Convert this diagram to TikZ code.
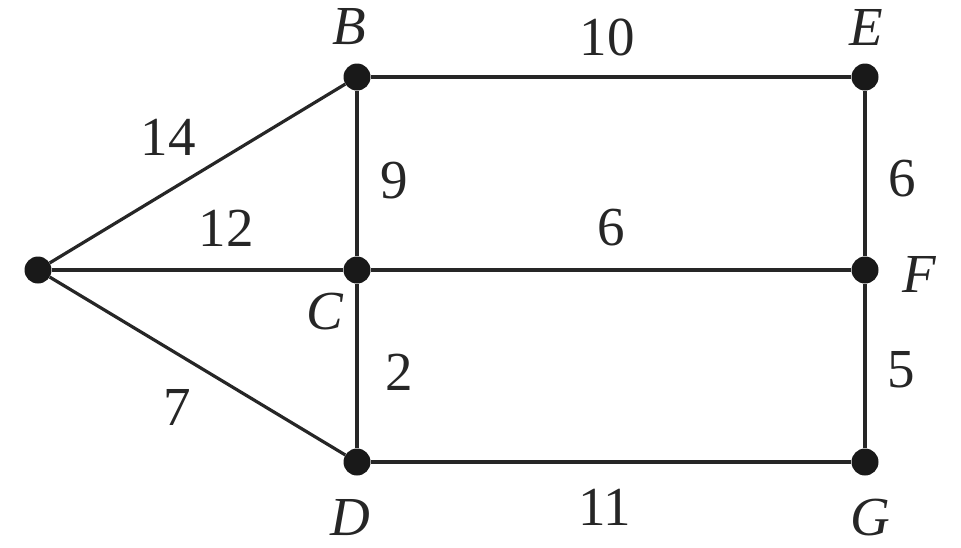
\documentclass[tikz,border=0pt]{standalone}
\usepackage{fontspec}
\setmainfont{Liberation Serif}
\begin{document}
\begin{tikzpicture}[x=1pt,y=-1pt,
  vtx/.style={circle,fill=black!90,inner sep=0pt,minimum size=27pt},
  edge/.style={line width=3.2pt,draw=black!85},
  num/.style={font=\fontsize{55}{60}\selectfont,text=black!85,inner sep=0pt},
  lbl/.style={font=\itshape\fontsize{55}{60}\selectfont,text=black!85,inner sep=0pt}]
\useasboundingbox (0,0) rectangle (961,547);
\node[vtx] (A) at (38,270) {};
\node[vtx] (B) at (357,77) {};
\node[vtx] (E) at (865,77) {};
\node[vtx] (C) at (357,270) {};
\node[vtx] (F) at (865,270) {};
\node[vtx] (D) at (357,462) {};
\node[vtx] (G) at (865,462) {};
\draw[edge] (A) -- (B);
\draw[edge] (A) -- (C);
\draw[edge] (A) -- (D);
\draw[edge] (B) -- (E);
\draw[edge] (B) -- (C);
\draw[edge] (C) -- (D);
\draw[edge] (C) -- (F);
\draw[edge] (E) -- (F);
\draw[edge] (F) -- (G);
\draw[edge] (D) -- (G);
\node[lbl] (lB) at (349,27) {B};
\node[lbl] (lE) at (866,27) {E};
\node[lbl] (lC) at (325,312) {C};
\node[lbl] (lF) at (919,274) {F};
\node[lbl] (lD) at (350,518) {D};
\node[lbl] (lG) at (870,518) {G};
\node[num] (n14) at (168,137) {14};
\node[num] (n12) at (226,228) {12};
\node[num] (n7) at (177,407) {7};
\node[num] (n9) at (394,181) {9};
\node[num] (n10) at (607,37) {10};
\node[num] (n6a) at (611,228) {6};
\node[num] (n6b) at (902,179) {6};
\node[num] (n2) at (399,372) {2};
\node[num] (n5) at (901,370) {5};
\node[num] (n11) at (605,507) {11};
\end{tikzpicture}
\end{document}
